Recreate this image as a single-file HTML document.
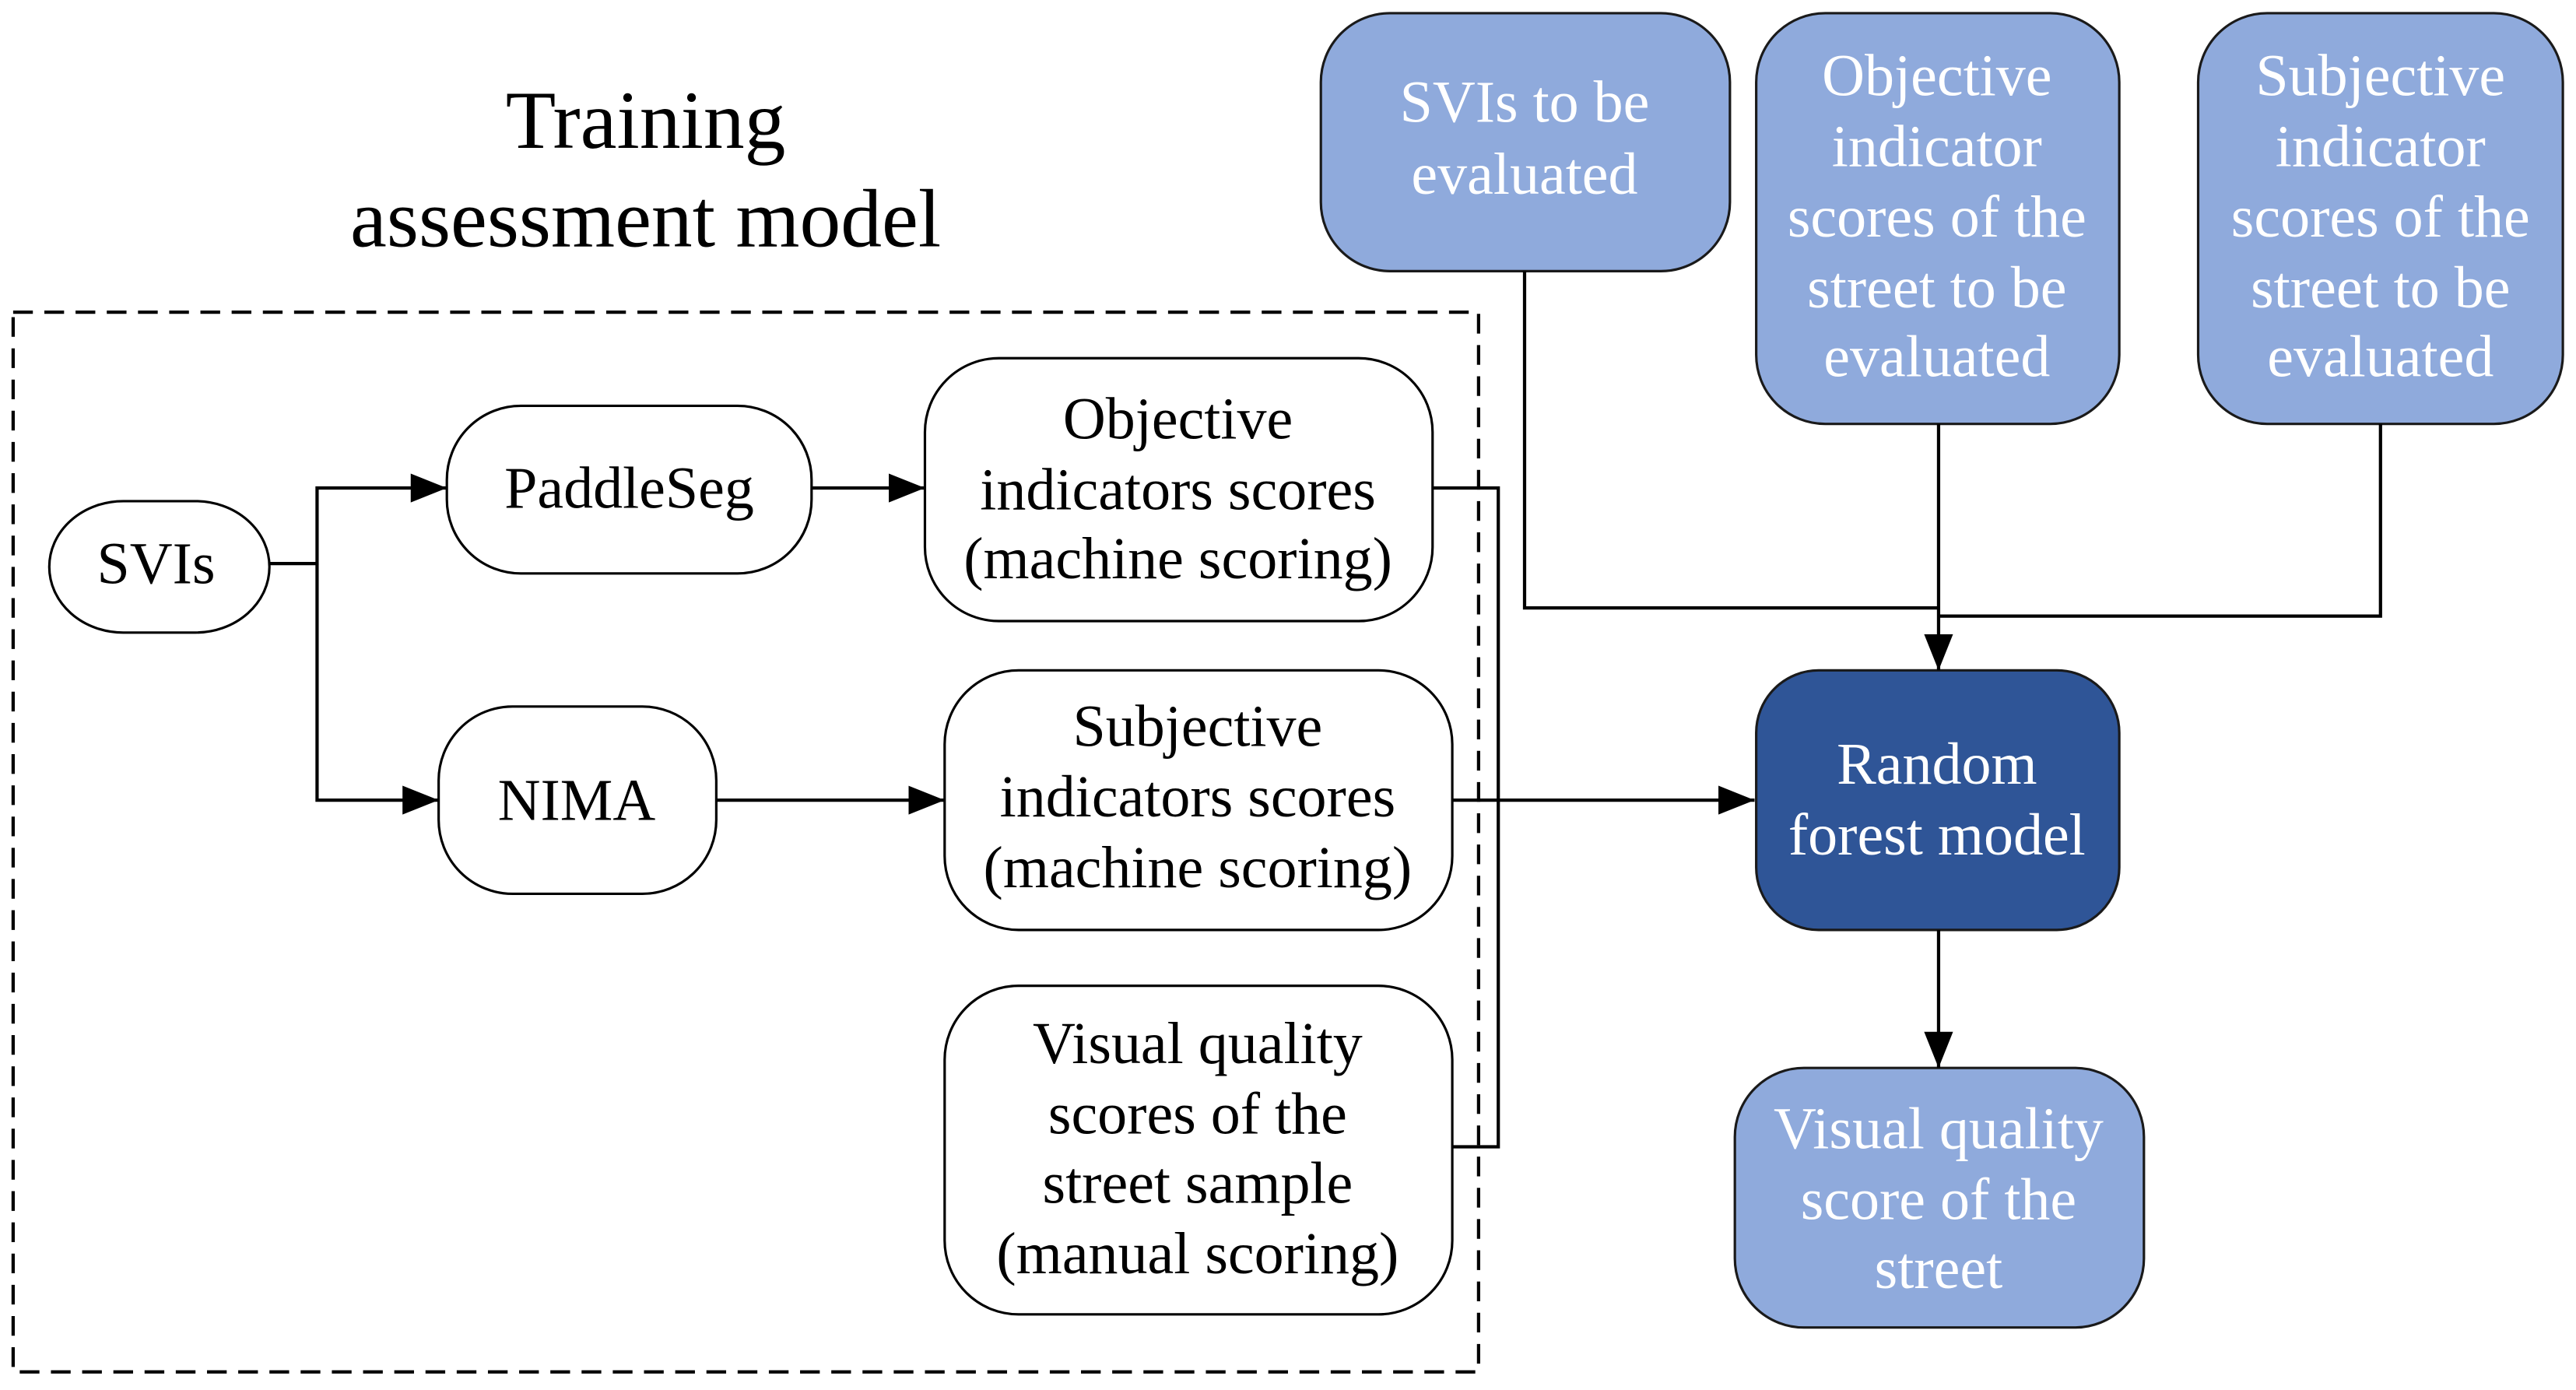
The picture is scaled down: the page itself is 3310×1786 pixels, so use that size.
<!DOCTYPE html>
<html><head><meta charset="utf-8"><style>
html,body{margin:0;padding:0;background:#fff;}
svg{display:block;}
text{font-family:"Liberation Serif",serif;text-anchor:middle;}
</style></head><body>
<svg width="3310" height="1786" viewBox="0 0 1568 846" xmlns="http://www.w3.org/2000/svg">
<defs>
<marker id="b" viewBox="0 0 10 10" refX="10" refY="5" markerWidth="22" markerHeight="22" markerUnits="userSpaceOnUse" orient="auto"><path d="M0,1 L10,5 L0,9 z" fill="#000"/></marker>
</defs>
<rect width="1568" height="846" fill="#fff"/>
<text x="393" y="90" font-size="50">Training</text>
<text x="393" y="150" font-size="50">assessment model</text>
<rect x="8" y="190" width="892" height="645" fill="none" stroke="#000" stroke-width="2" stroke-dasharray="12,7"/>

<g fill="#fff" stroke="#000" stroke-width="1.5">
<rect x="30" y="305" width="134" height="80" rx="45"/>
<rect x="272" y="247" width="222" height="102" rx="45"/>
<rect x="267" y="430" width="169" height="114" rx="45"/>
<rect x="563" y="218" width="309" height="160" rx="45"/>
<rect x="575" y="408" width="309" height="158" rx="45"/>
<rect x="575" y="600" width="309" height="200" rx="45"/>
</g>
<g font-size="36" fill="#000">
<text x="95" y="355">SVIs</text>
<text x="383" y="309">PaddleSeg</text>
<text x="351" y="499">NIMA</text>
<text x="717" y="267">Objective</text>
<text x="717" y="310">indicators scores</text>
<text x="717" y="352">(machine scoring)</text>
<text x="729" y="454">Subjective</text>
<text x="729" y="497">indicators scores</text>
<text x="729" y="540">(machine scoring)</text>
<text x="729" y="647">Visual quality</text>
<text x="729" y="690">scores of the</text>
<text x="729" y="732">street sample</text>
<text x="729" y="775">(manual scoring)</text>
</g>

<g fill="#8FAADC" stroke="#1a1a1a" stroke-width="1.5">
<rect x="804" y="8" width="249" height="157" rx="42"/>
<rect x="1069" y="8" width="221" height="250" rx="42"/>
<rect x="1338" y="8" width="222" height="250" rx="42"/>
<rect x="1056" y="650" width="249" height="158" rx="42"/>
</g>
<rect x="1069" y="408" width="221" height="158" rx="38" fill="#2F5597" stroke="#1a1a1a" stroke-width="1.5"/>
<g font-size="36" fill="#fff">
<text x="928" y="74">SVIs to be</text>
<text x="928" y="118">evaluated</text>
<text x="1179" y="58">Objective</text>
<text x="1179" y="101">indicator</text>
<text x="1179" y="144">scores of the</text>
<text x="1179" y="187">street to be</text>
<text x="1179" y="229">evaluated</text>
<text x="1449" y="58">Subjective</text>
<text x="1449" y="101">indicator</text>
<text x="1449" y="144">scores of the</text>
<text x="1449" y="187">street to be</text>
<text x="1449" y="229">evaluated</text>
<text x="1179" y="477">Random</text>
<text x="1179" y="520">forest model</text>
<text x="1180" y="699">Visual quality</text>
<text x="1180" y="742">score of the</text>
<text x="1180" y="784">street</text>
</g>

<g fill="none" stroke="#000" stroke-width="2">
<polyline points="164,343 193,343 193,297 272,297" marker-end="url(#b)"/>
<polyline points="193,343 193,487 267,487" marker-end="url(#b)"/>
<line x1="494" y1="297" x2="563" y2="297" marker-end="url(#b)"/>
<line x1="436" y1="487" x2="575" y2="487" marker-end="url(#b)"/>
<polyline points="872,297 912,297 912,698 884,698"/>
<line x1="884" y1="487" x2="1068" y2="487" marker-end="url(#b)"/>
<polyline points="928,165 928,370 1180,370"/>
<polyline points="1449,258 1449,375 1180,375"/>
<line x1="1180" y1="258" x2="1180" y2="408" marker-end="url(#b)"/>
<line x1="1180" y1="566" x2="1180" y2="650" marker-end="url(#b)"/>
</g>
</svg>
</body></html>
